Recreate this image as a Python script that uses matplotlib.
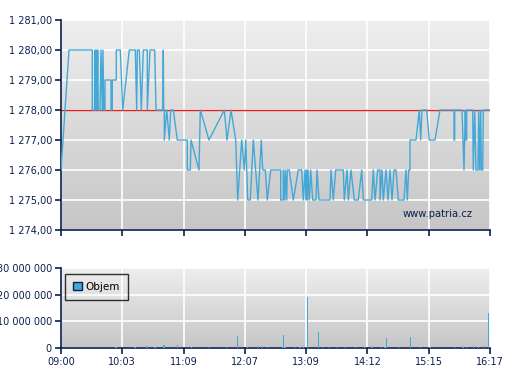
import matplotlib
matplotlib.use("Agg")
import matplotlib.pyplot as plt
import numpy as np
from matplotlib.colors import LinearSegmentedColormap
from matplotlib.patches import Patch

### DATA ###

# (position along the session, price); 0 = 09:00, 429 = 16:17
price_points = [
    (0, 1276), (8, 1280), (31.3, 1280), (31.3, 1278), (33.5, 1278), (34, 1280),
    (34.7, 1278), (35.3, 1280), (36, 1278), (36.7, 1280), (37.3, 1278), (39, 1278),
    (40, 1280), (41.3, 1278), (42, 1280), (42.7, 1278), (44, 1278), (44, 1279),
    (50, 1279), (50, 1278), (51.3, 1278), (51.3, 1279), (55.3, 1279), (55.3, 1280),
    (59.3, 1280), (61.7, 1278), (68.3, 1280), (74.3, 1280), (75.7, 1278), (76.3, 1280),
    (78.3, 1280), (80.3, 1278), (82.3, 1280), (86.3, 1280), (86.3, 1278), (89, 1280),
    (93.7, 1280), (95, 1278), (101.7, 1278), (102.3, 1280), (102.7, 1278), (103.3, 1278),
    (103.3, 1277), (105.7, 1278), (108.3, 1277), (109.7, 1278), (112.3, 1278), (116.3, 1277),
    (126.3, 1277), (126.3, 1276), (129.3, 1276), (130, 1277), (138, 1276), (139.3, 1278),
    (148, 1277), (163.3, 1278), (166, 1277), (170, 1278), (174.7, 1277), (176.7, 1275),
    (180.7, 1277), (183.3, 1276), (184.7, 1277), (186.7, 1275), (189.3, 1275), (192.3, 1277),
    (197, 1275), (200.3, 1277), (201.7, 1276), (204.3, 1276), (206.3, 1275), (209.7, 1276),
    (219.7, 1276), (219.7, 1275), (222.3, 1275), (222.3, 1276), (223.7, 1275), (224.3, 1276),
    (225.7, 1275), (226.3, 1276), (227.7, 1276), (228.3, 1276), (232.3, 1275), (237.3, 1276),
    (240.7, 1276), (242.3, 1275), (244, 1276), (245, 1275), (245.7, 1276), (246.3, 1275),
    (247, 1276), (248.3, 1275), (249.7, 1276), (251.7, 1275), (255, 1275), (256, 1276),
    (258, 1275), (269, 1275), (270, 1276), (272.3, 1275), (274.7, 1276), (282.3, 1276),
    (283.3, 1275), (286, 1276), (287.3, 1275), (290, 1276), (293.3, 1275), (297.3, 1275),
    (300.7, 1276), (302.3, 1275), (310.7, 1275), (312.3, 1276), (314, 1275), (316.7, 1276),
    (319, 1276), (319, 1275), (321, 1276), (322.3, 1275), (325, 1276), (327, 1275),
    (329, 1276), (331, 1275), (333, 1276), (335, 1276), (337.3, 1275), (343, 1275),
    (345, 1276), (346.3, 1275), (347.7, 1276), (349, 1276), (349, 1277), (355, 1277),
    (358.3, 1278), (359.7, 1277), (361, 1278), (365.7, 1278), (368.3, 1277), (374, 1277),
    (379, 1278), (393, 1278), (393, 1277), (393.7, 1277), (393.7, 1278), (401, 1278),
    (403, 1276), (404.3, 1278), (405, 1277), (405.7, 1277), (405.7, 1278), (411.7, 1278),
    (412.3, 1276), (413.7, 1278), (415, 1276), (417, 1276), (417.7, 1278), (418.7, 1276),
    (419.7, 1278), (420.3, 1276), (421.7, 1276), (422.3, 1278), (429, 1278),
]
price_pos = [p for p, _ in price_points]
price = [v for _, v in price_points]

prev_close = 1278

vol_pos = [55, 74, 86, 94, 103, 116.3, 130.7, 148.3, 165.7, 176.3, 186.3, 197.3, 201.3,
           206.3, 221.3, 222.3, 224, 233.3, 239, 242.3, 246.3, 257.3, 261.7, 268.3, 276.3,
           284.7, 294.3, 303.3, 310.7, 311.7, 320.7, 324, 325.3, 337.3, 349.7, 359.7, 369,
           393.3, 401.3, 402.3, 405.7, 412.3, 417.3, 422.3, 427.3]
volume_m = [0.5, 0.5, 0.9, 0.5, 1.0, 1.3, 0.4, 0.4, 0.3, 4.6, 0.5, 0.8, 0.9, 0.3, 0.5, 5.0,
            0.3, 0.3, 0.3, 0.4, 19.2, 6.1, 0.3, 0.4, 0.3, 0.3, 0.3, 0.3, 0.8, 0.4, 0.3, 0.5,
            3.9, 0.3, 4.2, 0.3, 0.3, 0.3, 0.8, 0.5, 0.3, 0.8, 0.3, 0.6, 13.3]
volume = [v * 1e6 for v in volume_m]

time_labels = ["09:00", "10:03", "11:09", "12:07", "13:09", "14:12", "15:15", "16:17"]
price_ticks = [1274, 1275, 1276, 1277, 1278, 1279, 1280, 1281]
vol_ticks = [0, 10e6, 20e6, 30e6]

### STYLE ###

NAVY = "#0b1f4f"
BLUE = "#44a8d6"
RED = "#e02020"
X_MAX = 429
FS = 7


def fmt_number(v, dec=0):
    """ Czech style number: space as thousands separator, comma as decimal point """
    return f"{v:,.{dec}f}".replace(",", " ").replace(".", ",")


def gradient(ax, top, bottom):
    cmap = LinearSegmentedColormap.from_list("bg", [bottom, top])
    grad = np.linspace(0, 1, 256).reshape(-1, 1)
    ax.imshow(grad, cmap=cmap, aspect="auto", extent=[0, 1, 0, 1],
              transform=ax.transAxes, origin="lower", zorder=0)


def style_axes(ax):
    for side in ["top", "right"]:
        ax.spines[side].set_visible(False)
    for side in ["left", "bottom"]:
        ax.spines[side].set_color(NAVY)
        ax.spines[side].set_linewidth(1.2)
    ax.tick_params(colors=NAVY, labelcolor=NAVY, labelsize=FS, length=4, width=1.2, pad=2.5)
    ax.grid(True, color="white", linewidth=1.2)
    for gl in ax.get_xgridlines() + ax.get_ygridlines():
        gl.set_zorder(1)


fig = plt.figure(figsize=(5.07, 3.8), dpi=100)
ax = fig.add_axes([61 / 507, 1 - 230 / 380, 429 / 507, 210 / 380])
axv = fig.add_axes([61 / 507, 1 - 348 / 380, 429 / 507, 80 / 380])

xticks = np.linspace(0, X_MAX, len(time_labels))

# price panel
gradient(ax, "#eeeeee", "#c6c6c6")
ax.axhline(prev_close, color=RED, linewidth=1.0, zorder=2)
ax.plot(price_pos, price, color=BLUE, linewidth=1.0, zorder=3)
ax.set_xlim(0, X_MAX)
ax.set_ylim(1274, 1281)
ax.set_yticks(price_ticks)
ax.set_yticklabels([fmt_number(p, 2) for p in price_ticks])
ax.set_xticks(xticks)
ax.set_xticklabels([])
style_axes(ax)
ax.text(0.96, 0.075, "www.patria.cz", transform=ax.transAxes, ha="right", va="center",
        color=NAVY, fontsize=7.2, zorder=4)

# volume panel
gradient(axv, "#eeeeee", "#c6c6c6")
axv.bar(vol_pos, volume, width=1.4, color=BLUE, linewidth=0, zorder=3)
axv.set_xlim(0, X_MAX)
axv.set_ylim(0, 30e6)
axv.set_yticks(vol_ticks)
axv.set_yticklabels([fmt_number(v) for v in vol_ticks])
axv.set_xticks(xticks)
axv.set_xticklabels(time_labels)
style_axes(axv)

handle = Patch(facecolor=BLUE, edgecolor=NAVY, linewidth=1)
leg = axv.legend([handle], ["Objem"], loc="upper left", bbox_to_anchor=(0.009, 0.93),
                 fancybox=False, frameon=True, fontsize=7.5, handlelength=0.8,
                 handleheight=0.8, borderpad=0.8, handletextpad=0.4, borderaxespad=0)
leg.get_frame().set_edgecolor("black")
leg.get_frame().set_facecolor("none")
leg.get_frame().set_linewidth(1)
for t in leg.get_texts():
    t.set_color("black")

fig.savefig("out.png", dpi=100)
